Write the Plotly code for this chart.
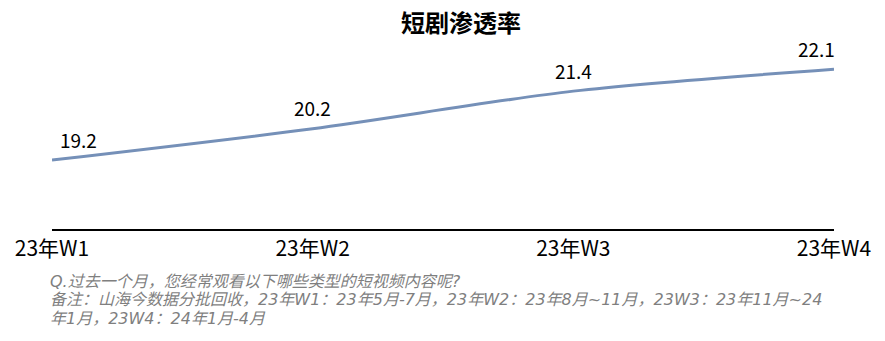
import plotly.graph_objects as go

categories = ["23年W1", "23年W2", "23年W3", "23年W4"]
values = [19.2, 20.2, 21.4, 22.1]
label_anchors = ["left", "center", "center", "right"]

title_text = "短剧渗透率"
note_lines = [
    "Q.过去一个月，您经常观看以下哪些类型的短视频内容呢?",
    "备注：山海今数据分批回收，23年W1：23年5月-7月，23年W2：23年8月~11月，23W3：23年11月~24",
    "年1月，23W4：24年1月-4月",
]

font_cjk = "Microsoft YaHei, Noto Sans CJK SC, sans-serif"
font_note = "DejaVu Sans, Noto Sans CJK SC, sans-serif"

fig = go.Figure()
fig.add_trace(go.Scatter(
    x=list(range(len(categories))),
    y=values,
    mode="lines",
    line=dict(color="#7590b8", width=3, shape="spline", smoothing=0.8),
    hoverinfo="skip",
))

xshift_map = {"left": 6, "center": 0, "right": 3}
for i, (v, anc) in enumerate(zip(values, label_anchors)):
    fig.add_annotation(
        x=i, y=v, xref="x", yref="y",
        text=f"{v:.1f}", showarrow=False,
        xanchor=anc, yanchor="middle",
        xshift=xshift_map[anc], yshift=21,
        font=dict(size=19, color="#000000", family=font_cjk),
    )

fig.update_layout(
    width=885, height=341,
    margin=dict(l=52, r=51, t=41, b=112),
    paper_bgcolor="white", plot_bgcolor="white",
    showlegend=False,
    title=dict(text="<b>" + title_text + "</b>", x=461 / 885, xanchor="center",
               y=1 - 24 / 341, yanchor="middle",
               font=dict(size=24, color="#000000", family=font_cjk)),
    xaxis=dict(
        range=[0, len(categories) - 1],
        tickmode="array",
        tickvals=list(range(len(categories))),
        ticktext=categories,
        showline=True, linecolor="#000000", linewidth=2,
        showgrid=False, zeroline=False, ticks="",
        tickfont=dict(size=21, color="#000000", family=font_cjk),
        fixedrange=True,
    ),
    yaxis=dict(range=[17, 23], visible=False, showgrid=False, zeroline=False),
)

note_y = [281, 299.5, 318]
for line, yy in zip(note_lines, note_y):
    fig.add_annotation(
        text="<i>" + line + "</i>",
        xref="paper", yref="paper",
        x=-4 / 782, y=-(yy - 229) / 188,
        xanchor="left", yanchor="middle", align="left",
        showarrow=False,
        font=dict(size=16, color="#7f7f7f", family=font_note),
    )

fig.write_html("out.html")
